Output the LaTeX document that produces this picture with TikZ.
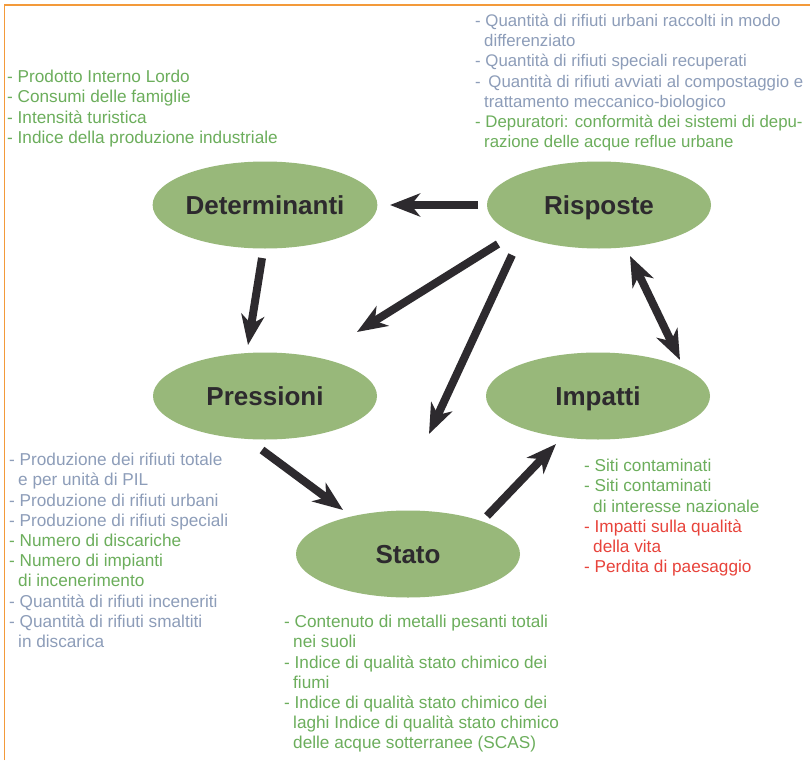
\documentclass[tikz,border=0pt]{standalone}
\usepackage{fontspec}
\setmainfont{Liberation Sans}
\usetikzlibrary{arrows.meta,shapes.geometric}

\definecolor{frameorange}{HTML}{F39A3A}
\definecolor{blobgreen}{HTML}{98B87A}
\definecolor{inkdark}{HTML}{2D2A2E}
\definecolor{txtgreen}{HTML}{6CAE5C}
\definecolor{txtgray}{HTML}{8D9DB9}
\definecolor{txtred}{HTML}{E8433B}

\tikzset{
  phase/.style={ellipse, fill=blobgreen, minimum width=224pt, minimum height=87pt,
    inner sep=0pt, text=inkdark, text height=23.6pt, text depth=5pt,
    font=\bfseries\fontsize{26}{30}\selectfont},
  flow/.style={draw=inkdark, line width=8pt,
    -{Stealth[length=30pt, width=23pt, inset=9pt]}},
  bothflow/.style={draw=inkdark, line width=8pt,
    {Stealth[length=30pt, width=23pt, inset=9pt]}-{Stealth[length=30pt, width=23pt, inset=9pt]}},
  notes/.style={anchor=north west, inner sep=0pt, align=left,
    font=\fontsize{17.2}{20.2}\selectfont},
}
\newcommand{\ind}{\hspace*{9pt}}

\begin{document}
\begin{tikzpicture}[x=1pt, y=-1pt]
  \useasboundingbox (0,0) rectangle (810,760);
  \fill[white] (0,0) rectangle (810,760);

  % frame
  \draw[frameorange, line width=1.5pt] (4.5,760) -- (4.5,5) -- (810,5);

  % DPSIR phases
  \node[phase] (det) at (265,205) {Determinanti};
  \node[phase] (ris) at (599,205) {Risposte};
  \node[phase] (pre) at (265,396) {Pressioni};
  \node[phase] (imp) at (598,396) {Impatti};
  \node[phase] (sta) at (408,554) {Stato};

  % links between phases
  \draw[flow] ([shift={(-121,0)}]ris.center) -- ([shift={(125,0)}]det.center);
  \draw[flow] ([shift={(-3,53)}]det.center) -- ([shift={(-17,-51)}]pre.center);
  \draw[flow] ([shift={(-101,39)}]ris.center) -- ([shift={(92,-64)}]pre.center);
  \draw[flow] ([shift={(-87,50)}]ris.center) -- ([shift={(21,-120)}]sta.center);
  \draw[flow] ([shift={(-3,54)}]pre.center) -- ([shift={(-65,-44)}]sta.center);
  \draw[flow] ([shift={(79,-38)}]sta.center) -- ([shift={(-42,48)}]imp.center);
  \draw[bothflow] ([shift={(31,51)}]ris.center) -- ([shift={(82,-36)}]imp.center);

  % indicator lists
  \node[notes, text=txtgreen] (ldet) at (7,70) {%
    - Prodotto Interno Lordo\\
    - Consumi delle famiglie\\
    - Intensità turistica\\
    - Indice della produzione industriale};

  \node[notes, font=\fontsize{16.8}{20.2}\selectfont] (lris) at (475,14) {%
    \color{txtgray}- Quantità di rifiuti urbani raccolti in modo\\
    \color{txtgray}\ind differenziato\\
    \color{txtgray}- Quantità di rifiuti speciali recuperati\\
    \color{txtgray}- \hspace{3pt}Quantità di rifiuti avviati al compostaggio e\\
    \color{txtgray}\ind trattamento meccanico-biologico\\
    \color{txtgreen}- Depuratori: conformità dei sistemi di depu-\\
    \color{txtgreen}\ind razione delle acque reflue urbane};

  \node[notes] (lpre) at (9,453) {%
    \color{txtgray}- Produzione dei rifiuti totale\\
    \color{txtgray}\ind e per unità di PIL\\
    \color{txtgray}- Produzione di rifiuti urbani\\
    \color{txtgray}- Produzione di rifiuti speciali\\
    \color{txtgreen}- Numero di discariche\\
    \color{txtgreen}- Numero di impianti\\
    \color{txtgreen}\ind di incenerimento\\
    \color{txtgray}- Quantità di rifiuti inceneriti\\
    \color{txtgray}- Quantità di rifiuti smaltiti\\
    \color{txtgray}\ind in discarica};

  \node[notes, text=txtgreen] (lsta) at (284,615) {%
    - Contenuto di metalli pesanti totali\\
    \ind nei suoli\\
    - Indice di qualità stato chimico dei\\
    \ind fiumi\\
    - Indice di qualità stato chimico dei\\
    \ind laghi Indice di qualità stato chimico\\
    \ind delle acque sotterranee (SCAS)};

  \node[notes] (limp) at (584,459) {%
    \color{txtgreen}- Siti contaminati\\
    \color{txtgreen}- Siti contaminati\\
    \color{txtgreen}\ind di interesse nazionale\\
    \color{txtred}- Impatti sulla qualità\\
    \color{txtred}\ind della vita\\
    \color{txtred}- Perdita di paesaggio};
\end{tikzpicture}
\end{document}
